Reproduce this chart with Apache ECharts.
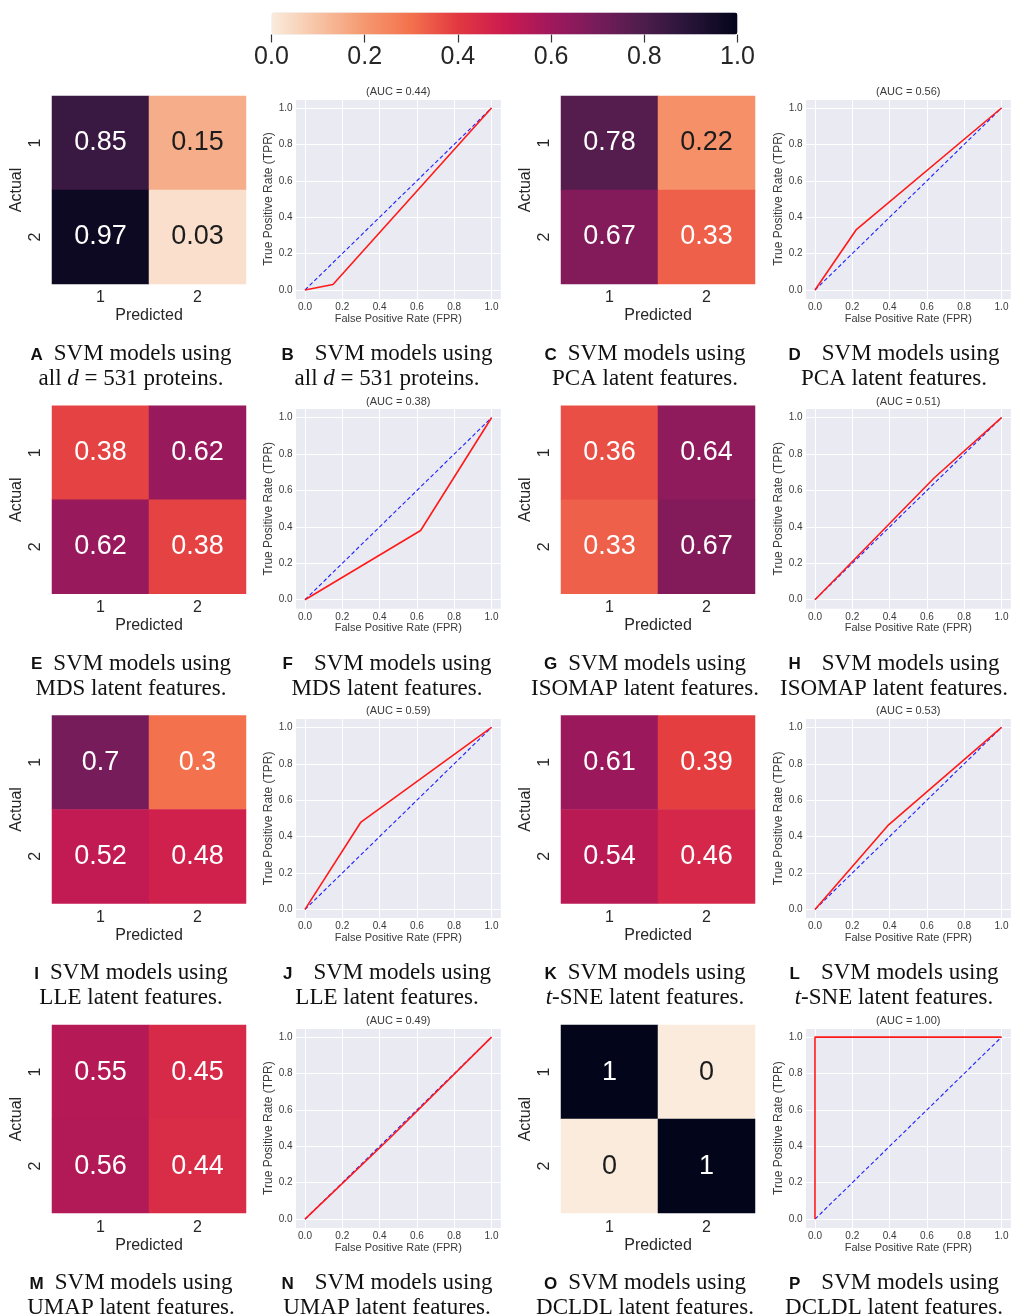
<!DOCTYPE html>
<html>
<head>
<meta charset="utf-8">
<title>SVM confusion matrices and ROC curves</title>
<script src="https://cdn.jsdelivr.net/npm/echarts@6/dist/echarts.min.js"></script>
<style>
  html, body { margin: 0; padding: 0; background: #fff; }
  #chart { width: 1012px; height: 1316px; }
</style>
</head>
<body>
<div id="chart"></div>
<script>
// ---------- data ----------
// class labels shared by every confusion matrix
const classLabels = ['1', '2'];

// row-normalised confusion matrices: rows = actual class, columns = predicted class
const cmAll    = [[0.85, 0.15], [0.97, 0.03]];
const cmPCA    = [[0.78, 0.22], [0.67, 0.33]];
const cmMDS    = [[0.38, 0.62], [0.62, 0.38]];
const cmISOMAP = [[0.36, 0.64], [0.33, 0.67]];
const cmLLE    = [[0.7, 0.3], [0.52, 0.48]];
const cmTSNE   = [[0.61, 0.39], [0.54, 0.46]];
const cmUMAP   = [[0.55, 0.45], [0.56, 0.44]];
const cmDCLDL  = [[1, 0], [0, 1]];

// ROC curves (false positive rate, true positive rate)
const rocAllFpr    = [0, 0.15, 1], rocAllTpr    = [0, 0.03, 1];
const rocPCAFpr    = [0, 0.22, 1], rocPCATpr    = [0, 0.33, 1];
const rocMDSFpr    = [0, 0.62, 1], rocMDSTpr    = [0, 0.38, 1];
const rocISOMAPFpr = [0, 0.64, 1], rocISOMAPTpr = [0, 0.67, 1];
const rocLLEFpr    = [0, 0.3, 1],  rocLLETpr    = [0, 0.48, 1];
const rocTSNEFpr   = [0, 0.39, 1], rocTSNETpr   = [0, 0.46, 1];
const rocUMAPFpr   = [0, 0.45, 1], rocUMAPTpr   = [0, 0.44, 1];
const rocDCLDLFpr  = [0, 0, 1],    rocDCLDLTpr  = [0, 1, 1];

// chance diagonal
const chanceFpr = [0, 1];
const chanceTpr = [0, 1];

// AUC values printed above each ROC panel
const aucLabels = ['0.44', '0.56', '0.38', '0.51', '0.59', '0.53', '0.49', '1.00'];

// panel letters and the feature set each pair of panels uses
const panelLetters = ['A','B','C','D','E','F','G','H','I','J','K','L','M','N','O','P'];
const featureLines = [
  'all {it|d} = 531 proteins.',
  'PCA latent features.',
  'MDS latent features.',
  'ISOMAP latent features.',
  'LLE latent features.',
  '{it|t}-SNE latent features.',
  'UMAP latent features.',
  'DCLDL latent features.'
];

const matrices = [cmAll, cmPCA, cmMDS, cmISOMAP, cmLLE, cmTSNE, cmUMAP, cmDCLDL];
const rocFpr = [rocAllFpr, rocPCAFpr, rocMDSFpr, rocISOMAPFpr, rocLLEFpr, rocTSNEFpr, rocUMAPFpr, rocDCLDLFpr];
const rocTpr = [rocAllTpr, rocPCATpr, rocMDSTpr, rocISOMAPTpr, rocLLETpr, rocTSNETpr, rocUMAPTpr, rocDCLDLTpr];

// ---------- styling / layout ----------
// reversed "rocket" colour map, from 0 (light) to 1 (dark)
const rocketR = ['#FAEBDD', '#F7C3A4', '#F5986F', '#F3714D', '#E23840', '#CB1B4F',
                 '#A0185C', '#761C5B', '#4C1D4B', '#261337', '#03051A'];

const SANS = 'Liberation Sans';
const SERIF = 'Liberation Serif';
const ROW_STEP = 309.7;
const HEAT_LEFT = [52, 561], HEAT_TOP0 = 96, HEAT_W = 194, HEAT_H = 188;
const ROC_X0 = [305, 815], ROC_UNIT_X = 186.5, ROC_Y1 = 108, ROC_UNIT_Y = 182, PAD = 0.05;
const CAPTION_X = [131, 387, 645, 894], CAPTION_Y0 = 366.5;
const LABEL_GAP = [11, 21];

const grids = [], xAxes = [], yAxes = [], series = [], graphics = [], heatIdx = [];

matrices.forEach((cm, i) => {
  const r = Math.floor(i / 2), c = i % 2;
  const dy = r * ROW_STEP;

  // confusion matrix panel
  const hg = grids.length;
  grids.push({ left: HEAT_LEFT[c], top: HEAT_TOP0 + dy, width: HEAT_W, height: HEAT_H, show: false });
  xAxes.push({
    type: 'category', gridIndex: hg, data: classLabels, position: 'bottom',
    axisLine: { show: false }, axisTick: { show: false }, splitLine: { show: false },
    axisLabel: { fontSize: 16, fontFamily: SANS, color: '#262626', margin: 6 },
    name: 'Predicted', nameLocation: 'middle', nameGap: 24,
    nameTextStyle: { fontSize: 16, fontFamily: SANS, color: '#262626' }
  });
  yAxes.push({
    type: 'category', gridIndex: hg, data: classLabels, inverse: true,
    axisLine: { show: false }, axisTick: { show: false }, splitLine: { show: false },
    axisLabel: { fontSize: 16, fontFamily: SANS, color: '#262626', margin: 8, rotate: 90 },
    name: 'Actual', nameLocation: 'middle', nameGap: 27,
    nameTextStyle: { fontSize: 16, fontFamily: SANS, color: '#262626' }
  });
  const cells = [];
  cm.forEach((row, a) => row.forEach((v, p) => cells.push([p, a, v])));
  heatIdx.push(series.length);
  series.push({
    type: 'heatmap', xAxisIndex: hg, yAxisIndex: hg, data: cells,
    itemStyle: { borderWidth: 0 },
    emphasis: { disabled: true },
    label: {
      show: true,
      formatter: p => '{' + (p.value[2] < 0.25 ? 'dk' : 'lt') + '|' + p.value[2] + '}',
      rich: {
        dk: { color: '#1c1c1c', fontSize: 27, fontFamily: SANS },
        lt: { color: '#ffffff', fontSize: 27, fontFamily: SANS }
      }
    }
  });

  // ROC panel
  const rg = grids.length;
  const left = ROC_X0[c] - PAD * ROC_UNIT_X;
  const top = ROC_Y1 + dy - PAD * ROC_UNIT_Y;
  grids.push({
    left: left, top: top, width: (1 + 2 * PAD) * ROC_UNIT_X, height: (1 + 2 * PAD) * ROC_UNIT_Y,
    show: true, backgroundColor: '#EAEAF2', borderWidth: 0
  });
  const rocAxis = (name, gap, nameSize) => ({
    type: 'value', gridIndex: rg, min: -PAD, max: 1 + PAD,
    axisLine: { show: false }, axisTick: { show: false },
    splitLine: { show: true, lineStyle: { color: '#ffffff', width: 1 } },
    axisLabel: {
      fontSize: 10, fontFamily: SANS, color: '#3a3a3a', margin: 3,
      showMinLabel: false, showMaxLabel: false,
      formatter: v => v.toFixed(1)
    },
    name: name, nameLocation: 'middle', nameGap: gap,
    nameTextStyle: { fontSize: nameSize, fontFamily: SANS, color: '#3a3a3a' }
  });
  xAxes.push(rocAxis('False Positive Rate (FPR)', 12, 11));
  yAxes.push(rocAxis('True Positive Rate (TPR)', 20, 12));
  series.push({
    type: 'line', xAxisIndex: rg, yAxisIndex: rg, silent: true,
    data: chanceFpr.map((f, k) => [f, chanceTpr[k]]),
    showSymbol: false, symbol: 'none',
    lineStyle: { color: '#1f1fff', width: 1.1, type: [4, 2.5] }
  });
  series.push({
    type: 'line', xAxisIndex: rg, yAxisIndex: rg, silent: true,
    data: rocFpr[i].map((f, k) => [f, rocTpr[i][k]]),
    showSymbol: false, symbol: 'none',
    lineStyle: { color: '#ff1a1a', width: 1.6 }
  });
  graphics.push({
    type: 'text', x: ROC_X0[c] + 0.5 * ROC_UNIT_X, y: top - 7, silent: true,
    style: {
      text: '(AUC = ' + aucLabels[i] + ')', fontSize: 11, fontFamily: SANS,
      fill: '#3a3a3a', align: 'center', verticalAlign: 'middle'
    }
  });

  // captions under both panels
  [0, 1].forEach(k => {
    const col = 2 * c + k;
    graphics.push({
      type: 'text', x: CAPTION_X[col], y: CAPTION_Y0 + dy, silent: true,
      style: {
        text: '{lab|' + panelLetters[2 * i + k] + '}SVM models using\n' + featureLines[i],
        fontSize: 23, fontFamily: SERIF, fill: '#111', lineHeight: 25,
        align: 'center', verticalAlign: 'middle',
        rich: {
          lab: { fontSize: 17, fontFamily: SANS, fontWeight: 'bold', fill: '#111',
                 padding: [0, LABEL_GAP[k], 3, 0], lineHeight: 25, verticalAlign: 'bottom' },
          it: { fontSize: 23, fontFamily: SERIF, fontStyle: 'italic', fill: '#111', lineHeight: 25 }
        }
      }
    });
  });
});

// colour bar tick axis
const cg = grids.length;
grids.push({ left: 271.5, top: 33.5, width: 466, height: 1, show: false });
xAxes.push({
  type: 'value', gridIndex: cg, min: 0, max: 1, interval: 0.2, position: 'bottom',
  axisLine: { show: false }, splitLine: { show: false },
  axisTick: { show: true, length: 8, lineStyle: { color: '#333', width: 1.2 } },
  axisLabel: { fontSize: 25, fontFamily: SANS, color: '#262626', margin: 10, formatter: v => v.toFixed(1) }
});
yAxes.push({ type: 'value', gridIndex: cg, show: false, min: 0, max: 1 });
series.push({ type: 'line', xAxisIndex: cg, yAxisIndex: cg, data: [], silent: true });

const chart = echarts.init(document.getElementById('chart'), null, { renderer: 'canvas' });
chart.setOption({
  backgroundColor: '#ffffff',
  animation: false,
  grid: grids,
  xAxis: xAxes,
  yAxis: yAxes,
  visualMap: {
    type: 'continuous', min: 0, max: 1, seriesIndex: heatIdx,
    orient: 'horizontal', left: 271.5, top: 12.5, itemWidth: 22, itemHeight: 466,
    padding: 0, calculable: false, hoverLink: false, text: null, showLabel: false,
    inRange: { color: rocketR }
  },
  graphic: graphics,
  series: series
});
</script>
</body>
</html>
